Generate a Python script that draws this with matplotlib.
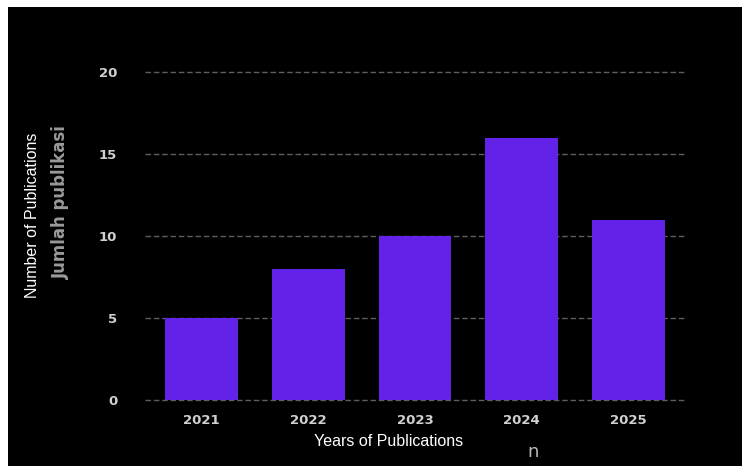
import matplotlib.pyplot as plt

years = ['2021', '2022', '2023', '2024', '2025']
counts = [5, 8, 10, 16, 11]
yticks = [0, 5, 10, 15, 20]

W, H = 742, 466
fig = plt.figure(figsize=(W / 100, H / 100), dpi=100, facecolor='white')

# black background of the screenshot
bg = fig.add_axes([8 / W, 0, 1 - 8 / W, (H - 7) / H])
bg.set_facecolor('black')
bg.set_xticks([])
bg.set_yticks([])
for s in bg.spines.values():
    s.set_visible(False)

ax = fig.add_axes([145 / W, (H - 400) / H, 540 / W, 328 / H])
ax.set_facecolor('none')
ax.bar(range(len(years)), counts, width=0.68, color='#6322e8', zorder=3)
ax.set_xlim(-0.53, 4.53)
ax.set_ylim(0, 20)
ax.set_yticks(yticks)
ax.set_xticks(range(len(years)))
ax.set_xticklabels(years)
for s in ax.spines.values():
    s.set_visible(False)
ax.grid(axis='y', color='#5e5e5e', linestyle=(0, (4, 2)), linewidth=1, zorder=1)
for gl in ax.get_ygridlines():
    gl.set_clip_on(False)
ax.tick_params(length=0, colors='#d0d0d0', labelsize=9.5)
ax.tick_params(axis='y', pad=20)
ax.tick_params(axis='x', pad=10)
for t in ax.get_xticklabels() + ax.get_yticklabels():
    t.set_fontweight('bold')

fig.text(61 / W, 1 - 202 / H, 'Jumlah publikasi', rotation=90, color='#9a9a9a',
         fontsize=12, fontweight='bold', ha='center', va='center')
fig.text(33 / W, 1 - 215 / H, 'Number of Publications', rotation=90, color='white',
         fontsize=11.5, family='Liberation Sans', ha='center', va='center')
fig.text(389 / W, 1 - 442 / H, 'Years of Publications', color='white',
         fontsize=11.5, family='Liberation Sans', ha='center', va='center')
fig.text(533 / W, 1 - 452 / H, 'n', color='#bbbbbb', fontsize=13,
         ha='center', va='center')

fig.savefig('out.png', dpi=100, facecolor='white')
